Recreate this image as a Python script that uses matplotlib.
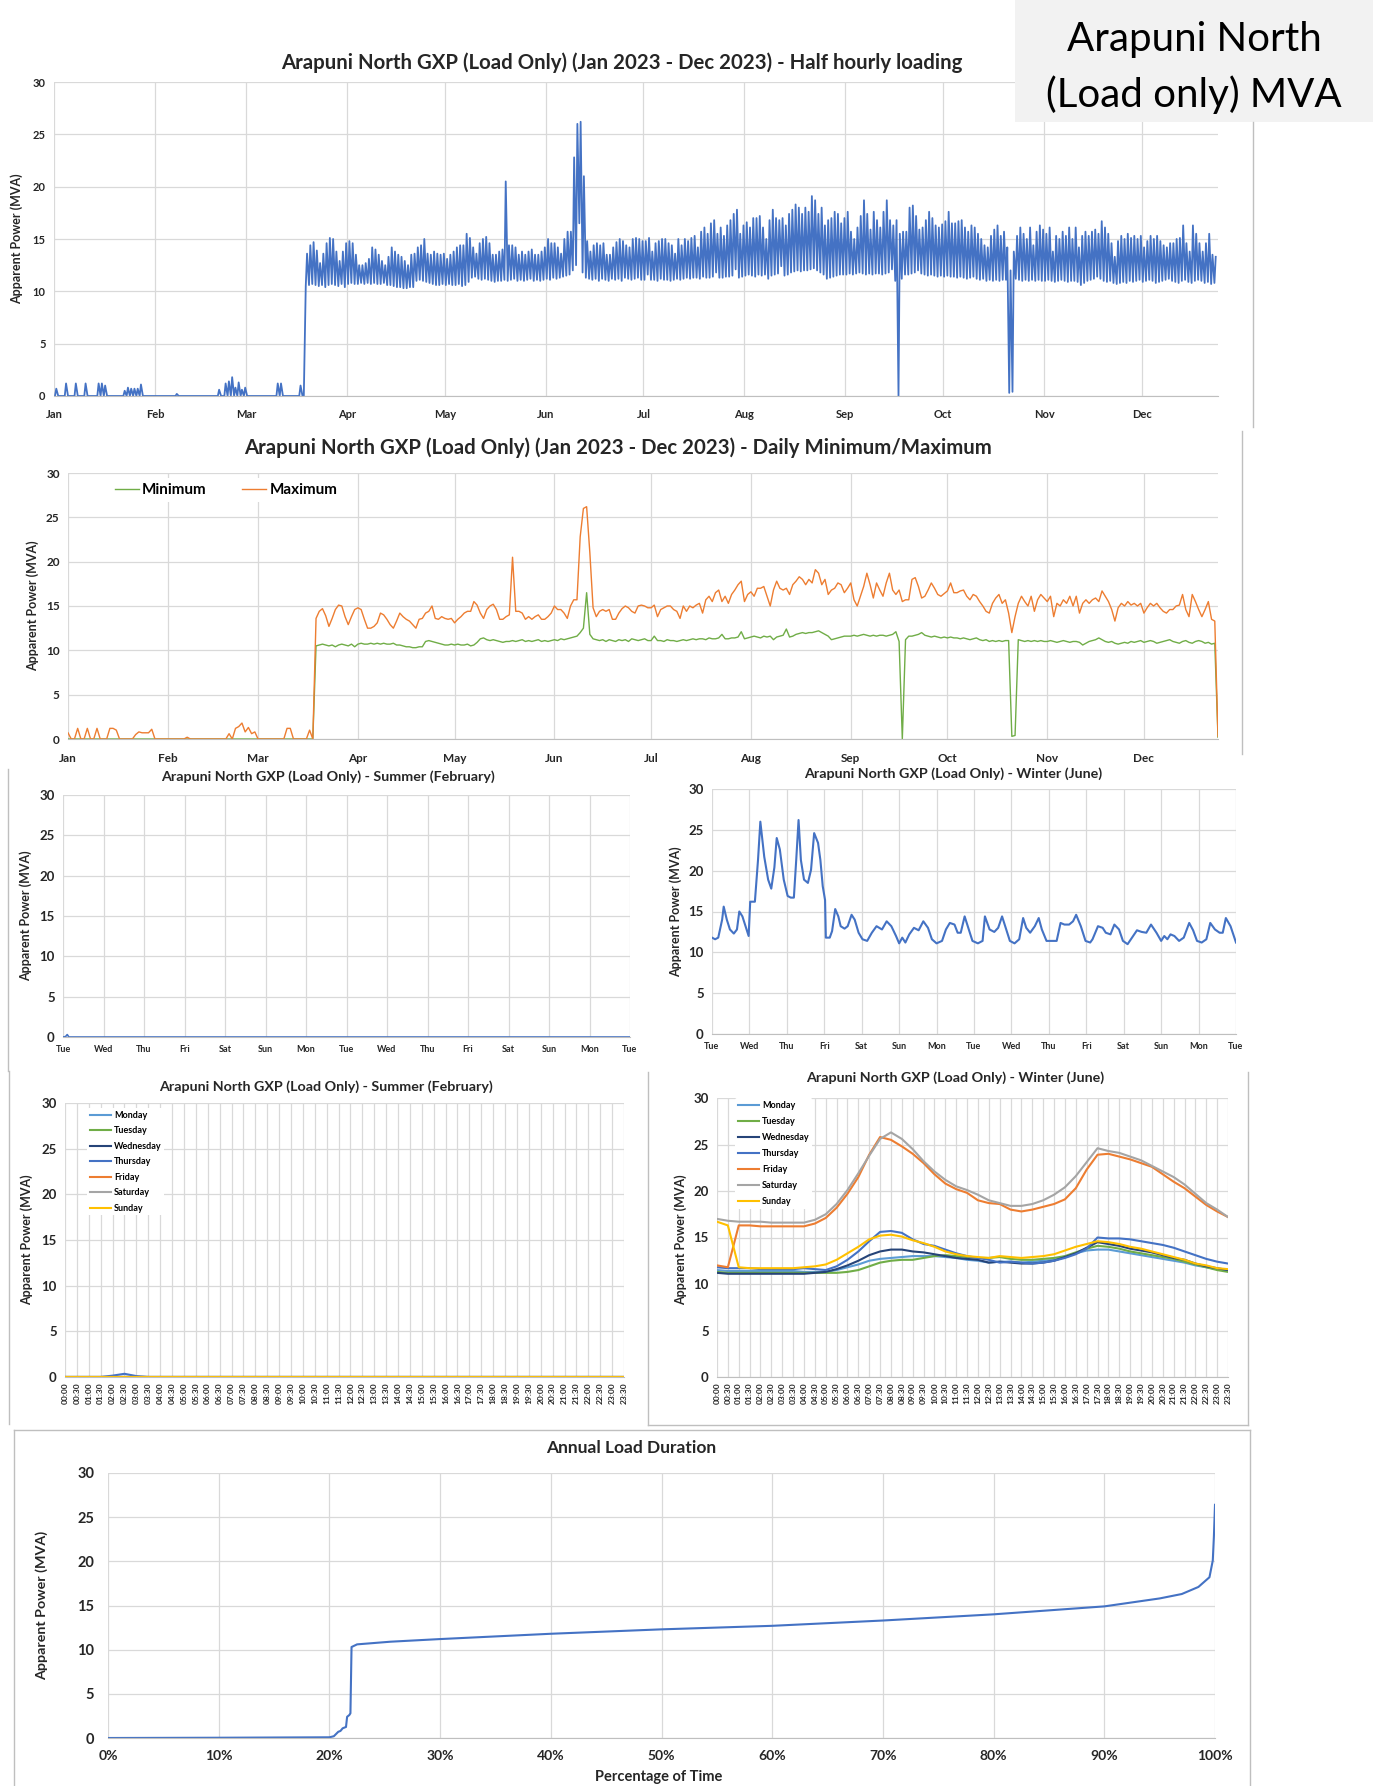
import numpy as np
import matplotlib
matplotlib.use("Agg")
import matplotlib.pyplot as plt
from matplotlib.lines import Line2D
from matplotlib.patches import Rectangle

plt.rcParams['font.family'] = ['Lato', 'DejaVu Sans']
plt.rcParams['font.weight'] = 'bold'

# ---- daily minimum / maximum (MVA), Jan 2023 - 24 Dec 2023 ----
max_jan = [0.7,0,0,1.2,0,0,1.2,0,0,1.2,0,0,0,1.2,1.2,1.0,0,0,0,0,0,0.5,0.8,0.7,0.7,0.7,1.1,0,0,0,0]
max_feb = [0,0,0,0,0,0,0.2,0,0,0,0,0,0,0,0,0,0,0,0,0.6,0,1.2,1.4,1.8,0.8,1.3,0.6,0.8]
max_mar = [0]*9 + [1.2,1.2] + [0]*5 + [1.0,0] + [13.6,14.4,14.7,13.9,12.7,13.6,14.6,15.1,15.0,13.8,12.9,13.8,14.6]
max_apr = [14.8,14.6,13.5,12.5,12.5,12.7,13.1,14.2,14.0,13.5,12.9,12.5,13.3,14.2,13.8,13.5,13.3,12.9,12.5,13.5,
           13.6,14.2,14.4,15.0,13.6,13.5,13.8,13.6,13.5,13.6]
max_may = [13.1,13.5,13.8,14.2,14.4,14.4,15.5,15.1,14.2,13.6,14.6,15.0,15.2,14.6,13.5,13.5,13.8,14.0,20.5,14.4,
           14.4,14.2,13.5,13.8,13.5,13.8,14.0,13.5,13.5,13.8,14.2]
max_jun = [15.0,14.6,14.6,14.2,13.6,15.0,15.7,15.7,22.8,26.0,26.2,21.0,14.8,13.8,14.4,14.6,14.4,14.6,13.5,13.5,
           14.2,14.7,15.0,14.8,14.4,14.2,15.0,15.1,15.0,14.8]
max_jul = [14.8,15.1,13.8,14.6,14.8,15.0,15.0,14.6,14.4,13.6,15.0,14.4,15.0,14.8,15.1,15.3,14.2,15.7,16.1,15.5,
           16.5,16.8,15.5,16.1,15.3,16.3,16.8,17.4,17.8,15.5,16.3]
max_aug = [16.6,16.1,17.0,17.0,17.2,16.1,15.0,16.8,17.8,17.0,16.8,17.0,16.3,17.4,17.8,18.3,18.0,17.4,18.0,17.6,
           19.1,18.7,17.4,18.0,16.3,16.8,17.0,17.6,17.4,16.5,17.0]
max_sep = [17.6,15.7,15.0,16.1,17.2,18.7,17.4,15.9,17.6,16.8,16.1,17.6,18.7,16.8,16.3,16.8,15.5,15.7,15.7,18.0,
           18.2,17.2,15.9,16.1,16.8,17.6,17.0,16.3,16.1,16.4]
max_oct = [16.7,17.6,16.5,16.5,16.7,16.8,16.1,15.7,16.3,16.1,15.5,15.0,14.4,14.2,15.3,15.9,16.3,15.3,15.7,14.2,
           12.0,13.8,15.3,16.1,15.5,15.0,16.1,14.4,15.7,16.3,15.9]
max_nov = [15.5,16.1,13.8,15.3,15.0,15.7,15.3,16.1,15.0,16.1,14.2,15.3,15.7,15.3,15.7,15.9,15.5,16.7,16.1,15.5,
           14.6,13.3,14.8,15.3,15.0,15.5,15.1,15.3,15.0,15.3]
max_dec = [14.2,14.8,15.3,15.0,15.3,14.8,14.4,14.2,14.6,14.6,15.0,15.1,16.3,14.6,13.8,16.3,15.5,14.6,13.8,14.6,
           15.5,13.5,13.3,0.3]

min_jan = [0.0]*31
min_feb = [0.0]*28
min_mar = [0.0]*18 + [10.5,10.6,10.7,10.6,10.5,10.6,10.4,10.6,10.7,10.6,10.5,10.7,10.4]
min_apr = [10.7,10.8,10.7,10.7,10.8,10.7,10.8,10.7,10.8,10.7,10.7,10.8,10.6,10.6,10.5,10.4,10.4,10.3,10.3,10.4,
           10.4,11.0,11.1,11.0,10.9,10.8,10.7,10.6,10.6,10.7]
min_may = [10.6,10.7,10.6,10.6,10.7,10.5,10.6,10.9,11.3,11.4,11.2,11.1,11.2,11.1,11.0,10.9,11.0,11.0,11.1,11.0,
           11.1,11.2,11.0,11.1,11.0,11.1,11.2,11.0,11.1,11.0,11.1]
min_jun = [11.2,11.1,11.3,11.2,11.3,11.4,11.5,11.6,12.0,12.5,16.5,11.8,11.3,11.2,11.1,11.2,11.0,11.2,11.1,11.0,
           11.2,11.1,11.2,11.0,11.3,11.2,11.1,11.2,11.3,11.1]
min_jul = [11.1,11.6,11.1,11.1,11.0,11.2,11.1,11.1,11.0,11.1,11.2,11.1,11.2,11.3,11.2,11.3,11.3,11.2,11.4,11.3,
           11.3,11.4,11.8,11.3,11.3,11.4,11.4,11.5,12.1,11.3,11.4]
min_aug = [11.5,11.6,11.5,11.4,11.6,11.5,11.6,11.2,11.5,11.6,11.7,12.4,11.5,11.6,11.8,11.9,12.0,11.9,12.0,12.0,
           12.1,12.2,12.0,11.8,11.6,11.2,11.3,11.4,11.5,11.6,11.6]
min_sep = [11.6,11.7,11.6,11.7,11.8,11.7,11.6,11.7,11.6,11.7,11.7,11.6,11.7,11.8,12.1,11.0,0.0,11.2,11.6,11.6,
           11.7,11.8,12.0,11.7,11.6,11.5,11.6,11.5,11.4,11.5]
min_oct = [11.4,11.5,11.4,11.4,11.3,11.4,11.3,11.2,11.3,11.4,11.2,11.1,11.2,11.0,11.1,11.0,11.1,11.0,11.1,11.1,
           0.3,0.4,11.2,11.1,11.0,11.1,11.0,11.1,11.0,11.1,11.0]
min_nov = [11.0,11.1,11.0,10.9,11.0,11.1,11.0,10.9,11.0,11.0,10.9,10.6,10.8,11.0,11.1,11.2,11.4,11.2,11.0,10.9,
           11.0,10.8,10.7,10.8,10.9,10.8,11.0,10.9,11.0,11.1]
min_dec = [10.9,11.0,11.1,11.0,10.8,10.9,11.0,11.1,11.2,11.0,10.9,10.8,11.0,11.1,10.9,10.8,11.0,11.1,11.0,10.8,
           10.9,10.7,10.8,0.2]

month_labels = ['Jan','Feb','Mar','Apr','May','Jun','Jul','Aug','Sep','Oct','Nov','Dec']
month_start = [0,31,59,90,120,151,181,212,243,273,304,334]

# ---- winter (June) fortnight, hours from start vs MVA ----
jun_week_hours = [0,2,4,6.5,7.5,9.5,11.5,14,16,17.5,19.5,21.5,23.5,24.5,27.5,29.5,31,33.5,36,38,
                  40,41.5,43.5,46,48.5,50.5,52.5,54,55.5,57,59,61.5,63.5,65.5,68,69.5,71,72.5,73,75.5,
                  77,79,81,82.5,85,87,89.5,91.5,94,96.5,99.5,102.5,105.5,109,112,115,118,120,122,124,
                  126.5,129.5,132.5,135.5,138.5,141,144,147.5,150,152.5,155.5,157.5,159.5,162,164,167,170.5,173.5,175,178,
                  181,183.5,186,188,191,194,197,199.5,201.5,204,207,209.5,211.5,214.5,219,221,223.5,226,229,231.5,
                  233.5,236.5,239.5,242.5,244,247.5,250.5,252.5,255.5,258,261,263.5,266.5,270,272.5,275.5,278.5,281.5,285,288,
                  290,292,294,296.5,299.5,302.5,306,308.5,311,314,317,319.5,322.5,325.5,327.5,329.5,332.5,336]
jun_week_mva = [11.8,11.6,11.8,14.0,15.6,14.0,12.8,12.3,12.8,15.0,14.4,13.2,12.0,16.2,16.2,21.3,26.0,21.7,18.9,17.8,
                20.4,24.0,22.6,18.9,16.9,16.7,16.7,21.3,26.2,21.3,18.9,18.5,20.1,24.6,23.4,21.3,18.1,16.4,11.8,11.8,
                12.6,15.3,14.4,13.2,12.9,13.2,14.6,14.0,12.4,11.6,11.4,12.4,13.2,12.8,13.8,13.2,12.0,11.1,11.8,11.2,
                12.2,13.0,12.7,13.8,13.0,11.6,11.1,11.4,12.8,13.6,13.4,12.4,12.4,14.4,13.2,11.4,11.1,11.4,14.4,12.8,
                12.5,13.0,14.4,13.2,11.4,11.1,11.6,14.2,13.0,12.4,13.2,14.2,12.8,11.4,11.4,11.4,13.6,13.4,13.4,13.8,
                14.6,13.2,11.4,11.2,11.6,13.2,13.0,12.4,12.2,13.4,12.8,11.4,11.0,12.0,12.7,12.5,12.4,13.4,12.4,11.4,
                12.0,11.6,12.2,12.0,11.4,11.8,13.6,12.7,11.4,11.2,11.6,13.6,12.8,12.4,12.4,14.2,13.2,11.2]
# summer (February) fortnight is flat at zero apart from one small blip
feb_week_hours = [0, 1.5, 2.5, 3.5, 336]
feb_week_mva = [0.0, 0.05, 0.3, 0.0, 0.0]
week_labels = ['Tue','Wed','Thu','Fri','Sat','Sun','Mon','Tue','Wed','Thu','Fri','Sat','Sun','Mon','Tue']

# ---- average day profiles (half hourly) ----
times = ['%02d:%02d' % (h, m) for h in range(24) for m in (0, 30)]
day_names = ['Monday','Tuesday','Wednesday','Thursday','Friday','Saturday','Sunday']
day_colors = ['#5B9BD5','#70AD47','#264478','#4472C4','#ED7D31','#A5A5A5','#FFC000']

jun_mon = [11.5,11.4,11.4,11.4,11.4,11.4,11.4,11.4,11.3,11.3,11.3,11.5,11.8,12.1,12.5,12.7,12.8,12.9,13.0,13.0,
           13.0,12.9,12.8,12.6,12.5,12.3,12.4,12.4,12.3,12.4,12.5,12.6,12.9,13.3,13.6,13.7,13.7,13.5,13.3,13.1,
           12.9,12.7,12.5,12.3,12.0,11.8,11.6,11.4]
jun_tue = [11.3,11.2,11.2,11.2,11.2,11.2,11.2,11.2,11.2,11.2,11.2,11.2,11.3,11.5,11.9,12.3,12.5,12.6,12.6,12.8,
           13.0,13.1,13.0,12.9,12.8,12.8,12.9,12.7,12.6,12.6,12.7,12.8,13.0,13.4,13.8,14.1,14.0,13.8,13.5,13.3,
           13.1,12.9,12.7,12.4,12.1,11.8,11.5,11.3]
jun_wed = [11.2,11.1,11.1,11.1,11.1,11.1,11.1,11.1,11.1,11.2,11.3,11.6,12.0,12.5,13.1,13.5,13.7,13.7,13.5,13.4,
           13.2,13.0,12.8,12.7,12.6,12.3,12.4,12.3,12.2,12.2,12.3,12.5,12.9,13.3,13.9,14.5,14.3,14.1,13.8,13.6,
           13.4,13.1,12.8,12.6,12.2,11.9,11.7,11.5]
jun_thu = [11.8,11.7,11.7,11.7,11.6,11.6,11.6,11.6,11.7,11.6,11.5,11.9,12.6,13.5,14.6,15.6,15.7,15.5,14.8,14.3,
           14.1,13.7,13.3,13.0,12.8,12.6,12.3,12.4,12.3,12.2,12.3,12.5,12.8,13.2,13.8,15.0,14.9,14.9,14.8,14.6,
           14.4,14.2,13.9,13.5,13.1,12.7,12.4,12.2]
jun_fri = [12.0,11.8,16.3,16.3,16.2,16.2,16.2,16.2,16.2,16.5,17.1,18.2,19.7,21.5,23.9,25.8,25.5,24.8,24.0,23.0,
           21.8,20.8,20.2,19.8,19.0,18.7,18.6,18.0,17.8,18.0,18.3,18.6,19.1,20.3,22.3,23.9,24.0,23.7,23.4,23.0,
           22.6,21.8,21.0,20.3,19.4,18.5,17.8,17.2]
jun_sat = [17.0,16.8,16.7,16.7,16.7,16.6,16.6,16.6,16.6,16.9,17.5,18.6,20.1,21.9,23.8,25.6,26.3,25.6,24.5,23.2,
           22.1,21.2,20.5,20.1,19.6,19.0,18.7,18.4,18.4,18.6,19.0,19.6,20.4,21.6,23.1,24.6,24.3,24.1,23.7,23.3,
           22.7,22.1,21.5,20.7,19.7,18.7,18.0,17.2]
jun_sun = [16.7,16.3,11.8,11.7,11.7,11.7,11.7,11.7,11.8,11.9,12.1,12.6,13.3,14.0,14.8,15.2,15.3,15.1,14.7,14.4,
           14.0,13.5,13.2,13.0,12.9,12.8,13.0,12.9,12.8,12.9,13.0,13.2,13.6,14.0,14.3,14.6,14.5,14.3,14.0,13.8,
           13.5,13.2,12.9,12.6,12.2,12.0,11.7,11.6]
feb_zero = [0.0]*48
feb_thu = [0.0]*4 + [0.15,0.35,0.1] + [0.0]*41

# ---- annual load duration ----
ldc_pct = [0,10,20,20.4,20.8,21.0,21.2,21.4,21.5,21.6,21.8,21.9,22.0,22.5,23.5,25.5,30,40,50,60,
           70,80,90,95,97,98.5,99.5,99.8,99.9,100]
ldc_mva = [0,0.03,0.08,0.2,0.7,0.8,1.1,1.2,1.25,2.4,2.6,2.8,10.3,10.6,10.7,10.9,11.2,11.8,12.3,12.7,
           13.3,14.0,14.9,15.8,16.3,17.1,18.2,20.1,22.8,26.4]

daily_max = np.array(max_jan+max_feb+max_mar+max_apr+max_may+max_jun+max_jul+max_aug+max_sep+max_oct+max_nov+max_dec)
daily_min = np.array(min_jan+min_feb+min_mar+min_apr+min_may+min_jun+min_jul+min_aug+min_sep+min_oct+min_nov+min_dec)
n = min(len(daily_max), len(daily_min))
daily_max, daily_min = daily_max[:n], daily_min[:n]

W, H = 1373, 1786
fig = plt.figure(figsize=(W/100, H/100), dpi=100)
GRID = '#D9D9D9'
TXT = '#262626'
BLUE = '#4472C4'
YLAB = 'Apparent Power (MVA)'


def box(l, t, r, b):
    return [l/W, 1-b/H, (r-l)/W, (b-t)/H]


def ftext(x, y, s, **kw):
    fig.text(x/W, 1-y/H, s, **kw)


def fline(x0, y0, x1, y1):
    fig.add_artist(Line2D([x0/W, x1/W], [1-y0/H, 1-y1/H], color='#BFBFBF', lw=1))


def base(ax, ysize, ypad=6):
    ax.set_ylim(0, 30)
    ax.set_yticks(range(0, 31, 5))
    ax.grid(True, color=GRID, lw=0.9)
    ax.set_axisbelow(True)
    for s in ('top', 'right', 'left'):
        ax.spines[s].set_visible(False)
    ax.spines['bottom'].set_color('#BFBFBF')
    ax.tick_params(length=0, colors=TXT)
    ax.tick_params(axis='y', labelsize=ysize, pad=ypad)


# grey heading box
fig.add_artist(Rectangle((1015/W, 1-122/H), 358/W, 122/H, color='#F2F2F2', lw=0))
ftext(1194, 40, 'Arapuni North', fontsize=29, weight='normal', ha='center', va='center', color='black')
ftext(1194, 95, '(Load only) MVA', fontsize=29, weight='normal', ha='center', va='center', color='black')

# 1. half hourly loading
ax1 = fig.add_axes(box(54, 82, 1218, 396))
base(ax1, 8)
d = np.arange(n - 1)
xs = np.column_stack([d + 0.3, d + 0.7]).ravel()
ys = np.column_stack([daily_min[:n-1], daily_max[:n-1]]).ravel()
ax1.plot(xs, ys, color=BLUE, lw=1.3)
ax1.set_xlim(0, n - 0.6)
ax1.set_xticks(month_start)
ax1.set_xticklabels(month_labels, fontsize=8)
ax1.tick_params(axis='x', pad=9)
ftext(622, 63, 'Arapuni North GXP (Load Only) (Jan 2023 - Dec 2023) - Half hourly loading',
      fontsize=14.7, ha='center', va='center', color=TXT)
ftext(17, 239, YLAB, fontsize=9, rotation=90, ha='center', va='center', color=TXT)
fline(1253, 122, 1253, 427)

# 2. daily min / max
ax2 = fig.add_axes(box(68, 473, 1218, 739))
base(ax2, 8.5)
ax2.plot(np.arange(n), daily_min, color='#70AD47', lw=1.0, label='Minimum')
ax2.plot(np.arange(n), daily_max, color='#ED7D31', lw=1.0, label='Maximum')
ax2.set_xlim(0, n - 1)
ax2.set_xticks(month_start)
ax2.set_xticklabels(month_labels, fontsize=8.5)
ax2.tick_params(axis='x', pad=10)
ax2.legend(loc='center left', bbox_to_anchor=(42/1150, 1-17/266), ncol=2, fontsize=11,
           frameon=True, facecolor='white', edgecolor='none', framealpha=1,
           handlelength=1.6, handletextpad=0.2, columnspacing=2.3, borderaxespad=0, borderpad=0.3)
ftext(618, 448, 'Arapuni North GXP (Load Only) (Jan 2023 - Dec 2023) - Daily Minimum/Maximum',
      fontsize=14.7, ha='center', va='center', color=TXT)
ftext(33, 606, YLAB, fontsize=9, rotation=90, ha='center', va='center', color=TXT)
fline(1242, 431, 1242, 754)

# 3. summer week
ax3 = fig.add_axes(box(63, 795, 630, 1037))
base(ax3, 9.5)
ax3.plot(feb_week_hours, feb_week_mva, color=BLUE, lw=1.2)
ax3.set_xlim(0, 336)
ax3.set_xticks(np.arange(0, 337, 24))
ax3.set_xticklabels(week_labels, fontsize=6.5)
ax3.tick_params(axis='x', pad=6)
ftext(328, 777, 'Arapuni North GXP (Load Only) - Summer (February)', fontsize=10.3, ha='center', va='center', color=TXT)
ftext(26, 916, YLAB, fontsize=9, rotation=90, ha='center', va='center', color=TXT)
fline(8, 769, 8, 1071)

# 4. winter week
ax4 = fig.add_axes(box(712, 789, 1236, 1034))
base(ax4, 9.5)
ax4.plot(jun_week_hours, jun_week_mva, color=BLUE, lw=1.5)
ax4.set_xlim(0, 336)
ax4.set_xticks(np.arange(0, 337, 24))
ax4.set_xticklabels(week_labels, fontsize=6.5)
ax4.tick_params(axis='x', pad=6)
ftext(953, 774, 'Arapuni North GXP (Load Only) - Winter (June)', fontsize=10.3, ha='center', va='center', color=TXT)
ftext(676, 912, YLAB, fontsize=9, rotation=90, ha='center', va='center', color=TXT)

# 5. summer day profile
ax5 = fig.add_axes(box(65, 1103, 624, 1377))
base(ax5, 9.5)
feb_profiles = [feb_zero, feb_zero, feb_zero, feb_thu, feb_zero, feb_zero, feb_zero]
for name, col, vals in zip(day_names, day_colors, feb_profiles):
    ax5.plot(np.arange(48), vals, color=col, lw=1.5, label=name)
ax5.set_xlim(0, 47)
ax5.set_xticks(np.arange(48))
ax5.set_xticklabels(times, rotation=90, fontsize=6)
ax5.tick_params(axis='x', pad=4)
ax5.legend(loc='upper left', bbox_to_anchor=(22/559, 1 - 5/274), fontsize=6.5, frameon=True, facecolor='white',
           edgecolor='none', framealpha=1, handlelength=2.4, handletextpad=0.3, labelspacing=0.72,
           borderaxespad=0, borderpad=0.3)
ftext(326, 1087, 'Arapuni North GXP (Load Only) - Summer (February)', fontsize=10.3, ha='center', va='center', color=TXT)
ftext(27, 1240, YLAB, fontsize=9, rotation=90, ha='center', va='center', color=TXT)
fline(9, 1071, 9, 1424)

# 6. winter day profile
ax6 = fig.add_axes(box(717, 1098, 1228, 1377))
base(ax6, 9.5)
jun_profiles = [jun_mon, jun_tue, jun_wed, jun_thu, jun_fri, jun_sat, jun_sun]
for name, col, vals in zip(day_names, day_colors, jun_profiles):
    ax6.plot(np.arange(48), vals, color=col, lw=1.5, label=name)
ax6.set_xlim(0, 47)
ax6.set_xticks(np.arange(48))
ax6.set_xticklabels(times, rotation=90, fontsize=6)
ax6.tick_params(axis='x', pad=4)
ax6.legend(loc='upper left', bbox_to_anchor=(18/511, 1), fontsize=6.5, frameon=True, facecolor='white',
           edgecolor='none', framealpha=1, handlelength=2.4, handletextpad=0.3, labelspacing=0.78,
           borderaxespad=0, borderpad=0.3)
ftext(955, 1078, 'Arapuni North GXP (Load Only) - Winter (June)', fontsize=10.3, ha='center', va='center', color=TXT)
ftext(681, 1240, YLAB, fontsize=9, rotation=90, ha='center', va='center', color=TXT)
fline(648, 1072, 648, 1425)
fline(648, 1425, 1248, 1425)
fline(1248, 1072, 1248, 1425)

# 7. load duration
ax7 = fig.add_axes(box(108, 1473, 1215, 1738))
base(ax7, 10.5, ypad=10)
ax7.plot(ldc_pct, ldc_mva, color=BLUE, lw=1.5)
ax7.set_xlim(0, 100)
ax7.set_xticks(range(0, 101, 10))
ax7.set_xticklabels(['%d%%' % p for p in range(0, 101, 10)], fontsize=10)
ax7.tick_params(axis='x', pad=9)
ftext(631, 1448, 'Annual Load Duration', fontsize=12.5, ha='center', va='center', color=TXT)
ftext(659, 1777, 'Percentage of Time', fontsize=10.5, ha='center', va='center', color=TXT)
ftext(42, 1605, YLAB, fontsize=10.3, rotation=90, ha='center', va='center', color=TXT)
fline(14, 1430, 14, 1786)
fline(14, 1430, 1250, 1430)
fline(1250, 1430, 1250, 1786)

fig.savefig('out.png', dpi=100)
